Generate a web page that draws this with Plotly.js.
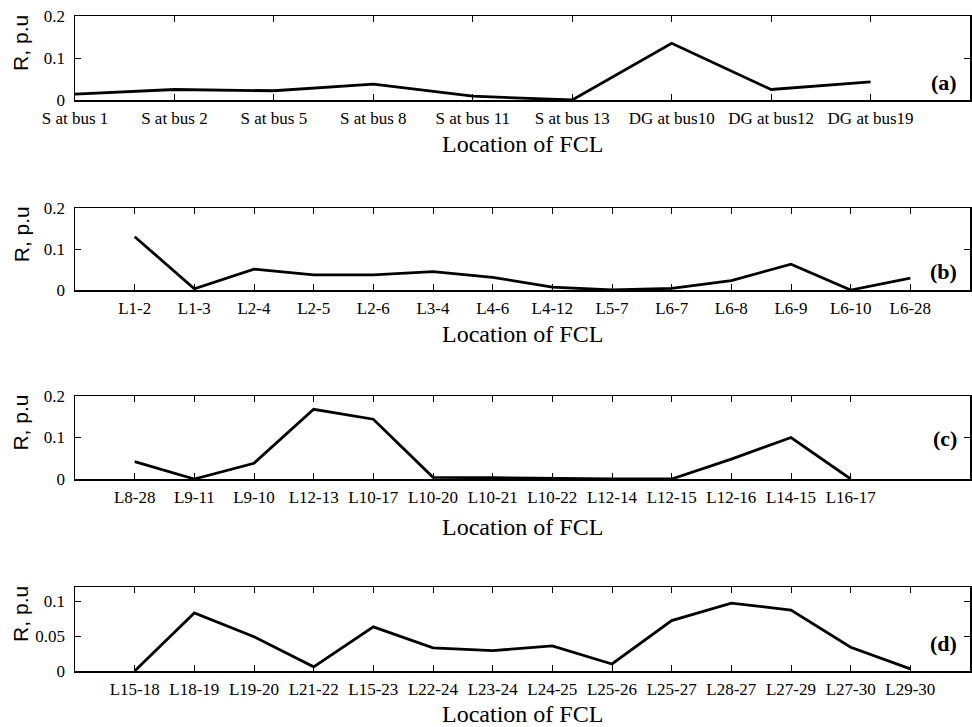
<!DOCTYPE html>
<html>
<head>
<meta charset="utf-8">
<script src="https://cdn.plot.ly/plotly-3.0.1.min.js"></script>
<style>
  html, body { margin: 0; padding: 0; background: #fff; }
  #chart { width: 972px; height: 727px; }
</style>
</head>
<body>
<div id="chart"></div>
<script>
// Panel (a): sources and DG units
const locA = ['S at bus 1', 'S at bus 2', 'S at bus 5', 'S at bus 8', 'S at bus 11',
              'S at bus 13', 'DG at bus10', 'DG at bus12', 'DG at bus19'];
const rA = [0.014, 0.025, 0.022, 0.038, 0.009, 0.0, 0.135, 0.025, 0.043];

// Panel (b)
const locB = ['L1-2', 'L1-3', 'L2-4', 'L2-5', 'L2-6', 'L3-4', 'L4-6', 'L4-12',
              'L5-7', 'L6-7', 'L6-8', 'L6-9', 'L6-10', 'L6-28'];
const rB = [0.13, 0.003, 0.051, 0.037, 0.037, 0.045, 0.031, 0.007,
            0.0, 0.004, 0.023, 0.063, 0.0, 0.029];

// Panel (c)
const locC = ['L8-28', 'L9-11', 'L9-10', 'L12-13', 'L10-17', 'L10-20', 'L10-21',
              'L10-22', 'L12-14', 'L12-15', 'L12-16', 'L14-15', 'L16-17'];
const rC = [0.042, 0.0, 0.038, 0.168, 0.144, 0.004, 0.003,
            0.001, 0.0, 0.0, 0.048, 0.1, 0.0];

// Panel (d)
const locD = ['L15-18', 'L18-19', 'L19-20', 'L21-22', 'L15-23', 'L22-24', 'L23-24',
              'L24-25', 'L25-26', 'L25-27', 'L28-27', 'L27-29', 'L27-30', 'L29-30'];
const rD = [0.0, 0.083, 0.049, 0.006, 0.063, 0.033, 0.029,
            0.036, 0.01, 0.072, 0.097, 0.087, 0.034, 0.003];

const panelTags = ['(a)', '(b)', '(c)', '(d)'];
const xTitle = 'Location of FCL';
const yTitle = 'R, p.u';

const H = 727;
// pixel rows of each panel's plot box (top, bottom)
const boxes = [[16, 100], [208, 290], [396, 479], [587, 671]];
const tagY = [0.21, 0.22, 0.49, 0.33];
const xTitleShift = [29, 29, 33, 28];

const panels = [
  { loc: locA, r: rA, xRange: [1, 10], yRange: [0, 0.2], dtick: 0.1 },
  { loc: locB, r: rB, xRange: [0, 15], yRange: [0, 0.2], dtick: 0.1 },
  { loc: locC, r: rC, xRange: [0, 15], yRange: [0, 0.2], dtick: 0.1 },
  { loc: locD, r: rD, xRange: [0, 15], yRange: [0, 0.12], dtick: 0.05 }
];

const serif = 'Liberation Serif, Times New Roman, serif';
const sans = 'Liberation Sans, Arial, sans-serif';

const traces = [];
const layout = {
  width: 972, height: 727,
  margin: { l: 75, r: 2, t: 0, b: 0 },
  paper_bgcolor: '#fff', plot_bgcolor: '#fff',
  showlegend: false,
  annotations: []
};

panels.forEach((p, i) => {
  const n = i + 1;
  const xs = p.loc.map((_, k) => k + 1);
  const xa = n === 1 ? 'x' : 'x' + n;
  const ya = n === 1 ? 'y' : 'y' + n;
  traces.push({
    x: xs, y: p.r, xaxis: xa, yaxis: ya,
    type: 'scatter', mode: 'lines',
    line: { color: '#000', width: 2.8 },
    hoverinfo: 'skip'
  });
  const [top, bot] = boxes[i];
  const axCommon = {
    showline: true, mirror: 'ticks', linecolor: '#000', linewidth: 1.5,
    ticks: 'inside', ticklen: 6, tickwidth: 1, tickcolor: '#000',
    showgrid: false, zeroline: false, fixedrange: true
  };
  layout['xaxis' + (n === 1 ? '' : n)] = Object.assign({}, axCommon, {
    anchor: ya,
    domain: [0, 1],
    range: p.xRange,
    tickmode: 'array', tickvals: xs, ticktext: p.loc,
    tickangle: 0,
    ticklabelstandoff: 2,
    tickfont: { family: serif, size: 17, color: '#000' }
  });
  layout['yaxis' + (n === 1 ? '' : n)] = Object.assign({}, axCommon, {
    anchor: xa,
    domain: [1 - bot / H, 1 - top / H],
    range: p.yRange,
    tickmode: 'linear', tick0: 0, dtick: p.dtick,
    ticklabelstandoff: 5,
    tickfont: { family: serif, size: 17, color: '#000' }
  });
  // x-axis title under each panel
  layout.annotations.push({
    text: xTitle,
    xref: xa + ' domain', yref: ya + ' domain',
    x: 0.5, y: 0, xanchor: 'center', yanchor: 'top', yshift: -xTitleShift[i],
    showarrow: false,
    font: { family: serif, size: 24, color: '#000' }
  });
  // y-axis title, rotated
  layout.annotations.push({
    text: yTitle,
    xref: 'paper', yref: ya + ' domain',
    x: (21 - 75) / 895, y: 0.68, xanchor: 'center', yanchor: 'middle',
    textangle: -90,
    showarrow: false,
    font: { family: sans, size: 21, color: '#000' }
  });
  // panel tag
  layout.annotations.push({
    text: '<b>' + panelTags[i] + '</b>',
    xref: xa + ' domain', yref: ya + ' domain',
    x: 0.988, y: tagY[i], xanchor: 'right', yanchor: 'middle',
    showarrow: false,
    font: { family: serif, size: 22, color: '#000' }
  });
});

Plotly.newPlot('chart', traces, layout, { staticPlot: true, displayModeBar: false });
</script>
</body>
</html>
